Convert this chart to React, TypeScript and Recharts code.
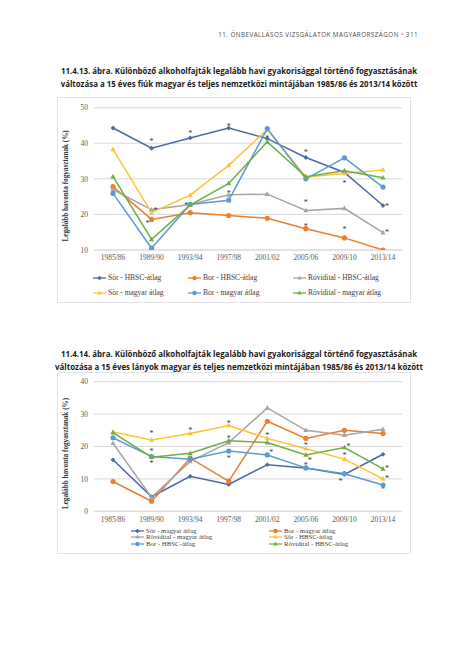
import React from 'react'
import { ComposedChart, Line, Scatter, XAxis, YAxis, CartesianGrid, Legend, Label } from 'recharts'

const YEARS = ['1985/86', '1989/90', '1993/94', '1997/98', '2001/02', '2005/06', '2009/10', '2013/14']

// 11.4.13 - fiúk
const sorHbscBoys = [44.3, 38.6, 41.5, 44.3, 41.3, 36.0, 31.8, 22.5]
const borHbscBoys = [27.8, 18.6, 20.5, 19.7, 18.9, 16.0, 13.4, 10.0]
const rovHbscBoys = [27.0, 21.3, 22.8, 25.5, 25.7, 21.1, 21.7, 14.9]
const sorHuBoys = [38.3, 20.5, 25.4, 33.8, 43.9, 30.5, 31.5, 32.5]
const borHuBoys = [25.9, 10.5, 22.8, 24.0, 44.1, 30.0, 35.9, 27.7]
const rovHuBoys = [30.6, 13.0, 22.6, 28.7, 40.4, 30.6, 32.3, 30.3]

// 11.4.14 - lányok
const sorHuGirls = [15.9, 4.5, 10.8, 8.3, 14.4, 13.4, 11.4, 17.6]
const borHuGirls = [9.2, 3.1, 16.4, 9.3, 27.8, 22.5, 25.0, 24.0]
const rovHuGirls = [21.0, 4.3, 15.4, 21.2, 31.9, 25.0, 23.5, 25.3]
const sorHbscGirls = [24.5, 22.0, 24.0, 26.5, 22.5, 19.3, 16.1, 10.0]
const borHbscGirls = [22.7, 16.9, 16.1, 18.6, 17.4, 13.4, 11.6, 8.1]
const rovHbscGirls = [24.3, 16.7, 17.9, 21.8, 21.2, 17.4, 19.7, 13.1]

// significance asterisks (year, value)
const starsBoysCenter = [
  ['1989/90', 41.1], ['1993/94', 43.2], ['1997/98', 45.3], ['1997/98', 26.3], ['2001/02', 41.8],
  ['2005/06', 37.8], ['2005/06', 23.8], ['2005/06', 17.2], ['2009/10', 29.1], ['2009/10', 16.1],
]
const starsBoysLeft = [['1989/90', 17.9], ['1993/94', 23.0]]
const starsBoysRight = [['1989/90', 21.6], ['2013/14', 22.8], ['2013/14', 15.5]]

const starsGirlsCenter = [
  ['1989/90', 24.5], ['1989/90', 18.9], ['1989/90', 15.4], ['1993/94', 25.5], ['1997/98', 27.7],
  ['1997/98', 23.0], ['1997/98', 16.7], ['2001/02', 24.0], ['2005/06', 20.8], ['2005/06', 14.6],
  ['2009/10', 17.7], ['2013/14', 7.3],
]
const starsGirlsLeft = [['2009/10', 9.8]]
const starsGirlsRight = [['2001/02', 18.6], ['2005/06', 16.2], ['2009/10', 20.4], ['2013/14', 13.7], ['2013/14', 10.5]]

const C = {
  darkBlue: '#4a69a8',
  orange: '#ed7d31',
  gray: '#a5a5a5',
  yellow: '#fcc435',
  lightBlue: '#5b9bd5',
  green: '#70ad47',
}

type Shape = 'circle' | 'diamond' | 'triangle'
type Series = { key: string; name: string; color: string; shape: Shape; values: number[] }

const boysSeries: Series[] = [
  { key: 'sorHbsc', name: 'Sör - HBSC-átlag', color: C.darkBlue, shape: 'diamond', values: sorHbscBoys },
  { key: 'borHbsc', name: 'Bor - HBSC-átlag', color: C.orange, shape: 'circle', values: borHbscBoys },
  { key: 'rovHbsc', name: 'Rövidital - HBSC-átlag', color: C.gray, shape: 'triangle', values: rovHbscBoys },
  { key: 'sorHu', name: 'Sör - magyar átlag', color: C.yellow, shape: 'triangle', values: sorHuBoys },
  { key: 'borHu', name: 'Bor - magyar átlag', color: C.lightBlue, shape: 'circle', values: borHuBoys },
  { key: 'rovHu', name: 'Rövidital - magyar átlag', color: C.green, shape: 'triangle', values: rovHuBoys },
]

const girlsSeries: Series[] = [
  { key: 'sorHu', name: 'Sör - magyar átlag', color: C.darkBlue, shape: 'diamond', values: sorHuGirls },
  { key: 'borHu', name: 'Bor - magyar átlag', color: C.orange, shape: 'circle', values: borHuGirls },
  { key: 'rovHu', name: 'Rövidital - magyar átlag', color: C.gray, shape: 'triangle', values: rovHuGirls },
  { key: 'sorHbsc', name: 'Sör - HBSC-átlag', color: C.yellow, shape: 'triangle', values: sorHbscGirls },
  { key: 'borHbsc', name: 'Bor - HBSC-átlag', color: C.lightBlue, shape: 'circle', values: borHbscGirls },
  { key: 'rovHbsc', name: 'Rövidital - HBSC-átlag', color: C.green, shape: 'triangle', values: rovHbscGirls },
]

const buildRows = (series: Series[]) =>
  YEARS.map((year, i) => {
    const row: Record<string, any> = { year }
    series.forEach((s) => (row[s.key] = s.values[i]))
    return row
  })

const toStars = (list: any[]) => list.map(([year, v]) => ({ year, v }))

const SERIF = '"Liberation Serif", "DejaVu Serif", serif'
const SANS = '"Open Sans", "Noto Sans", sans-serif'

const Marker = ({ cx, cy, shape, color, size }: { cx: number; cy: number; shape: Shape; color: string; size: number }) => {
  if (cx == null || cy == null) return null
  if (shape === 'circle') return <circle cx={cx} cy={cy} r={size} fill={color} />
  if (shape === 'diamond')
    return <polygon points={`${cx},${cy - size} ${cx + size},${cy} ${cx},${cy + size} ${cx - size},${cy}`} fill={color} />
  return (
    <polygon
      points={`${cx},${cy - size * 1.1} ${cx + size},${cy + size * 0.7} ${cx - size},${cy + size * 0.7}`}
      fill={color}
    />
  )
}

const makeDot = (s: Series, size: number) => (props: any) =>
  <Marker key={`${s.key}-${props.index}`} cx={props.cx} cy={props.cy} shape={s.shape} color={s.color} size={size} />

const starShape = (dx: number) => (props: any) =>
  (
    <text x={props.cx + dx} y={props.cy + 4.2} textAnchor="middle" fontSize={8} fontFamily={SERIF} fill="#333">
      *
    </text>
  )

// custom legend laid out as a fixed grid like the Excel original
const LegendGrid = ({
  series,
  cols,
  rows,
  perRow,
  height,
  fontSize,
}: {
  series: Series[]
  cols: number[]
  rows: number[]
  perRow: number
  height: number
  fontSize: number
}) => (
  <div style={{ position: 'relative', height, width: '100%' }}>
    {series.map((s, i) => {
      const x = cols[i % perRow]
      const y = rows[Math.floor(i / perRow)]
      return (
        <div
          key={s.key}
          style={{
            position: 'absolute',
            left: x,
            top: y - 4,
            height: 8,
            display: 'flex',
            alignItems: 'center',
            whiteSpace: 'nowrap',
            fontFamily: SERIF,
            fontSize,
            lineHeight: '8px',
            color: '#404040',
          }}
        >
          <svg width={13} height={8} style={{ marginRight: 2 }}>
            <line x1={0} y1={4} x2={13} y2={4} stroke={s.color} strokeWidth={1.3} />
            <Marker cx={6.5} cy={4} shape={s.shape} color={s.color} size={2.2} />
          </svg>
          {s.name}
        </div>
      )
    })}
  </div>
)

const yTitle = (fontSize: number, shift: number) => (props: any) => {
  const { viewBox } = props
  const x = viewBox.x + 10
  const y = viewBox.y + viewBox.height / 2 + shift
  return (
    <text
      x={x}
      y={y}
      transform={`rotate(-90, ${x}, ${y})`}
      textAnchor="middle"
      fontFamily={SERIF}
      fontWeight="bold"
      fontSize={fontSize}
      fill="#333"
    >
      Legalább havonta fogyasztanak (%)
    </text>
  )
}

const tickStyle = { fontSize: 7.5, fill: '#595959', fontFamily: SERIF }

const AlcoholChart = ({
  series,
  domain,
  ticks,
  width,
  height,
  top,
  legendHeight,
  legend,
  stars,
}: {
  series: Series[]
  domain: [number, number]
  ticks: number[]
  width: number
  height: number
  top: number
  legendHeight: number
  legend: React.ReactNode
  stars: { center: any[]; left: any[]; right: any[] }
}) => {
  const data = buildRows(series)
  return (
    <ComposedChart
      width={width}
      height={height}
      data={data}
      margin={{ top, right: 8, left: 0, bottom: 0 }}
      style={{ fontFamily: SERIF }}
    >
      <CartesianGrid vertical={false} stroke="#d9d9d9" />
      <XAxis
        dataKey="year"
        type="category"
        allowDuplicatedCategory={false}
        interval={0}
        padding={{ left: 19, right: 19 }}
        tickLine={false}
        tickSize={0}
        tickMargin={5}
        axisLine={{ stroke: '#d9d9d9' }}
        tick={tickStyle}
        height={16}
      />
      <YAxis
        domain={domain}
        ticks={ticks}
        allowDataOverflow
        width={36}
        axisLine={false}
        tickLine={false}
        tickSize={0}
        tickMargin={6}
        tick={tickStyle}
      >
        <Label content={yTitle(7.2, 7)} />
      </YAxis>
      <Legend
        verticalAlign="bottom"
        content={() => legend}
        wrapperStyle={{ left: 0, width, height: legendHeight }}
      />
      {series.map((s) => (
        <Line
          key={s.key}
          dataKey={s.key}
          name={s.name}
          stroke={s.color}
          strokeWidth={1.5}
          dot={makeDot(s, s.shape === 'diamond' ? 2.4 : 2.6)}
          activeDot={false}
          isAnimationActive={false}
        />
      ))}
      <Scatter data={toStars(stars.center)} dataKey="v" legendType="none" shape={starShape(0)} isAnimationActive={false} />
      <Scatter data={toStars(stars.left)} dataKey="v" legendType="none" shape={starShape(-4)} isAnimationActive={false} />
      <Scatter data={toStars(stars.right)} dataKey="v" legendType="none" shape={starShape(4)} isAnimationActive={false} />
    </ComposedChart>
  )
}

const titleStyle: React.CSSProperties = {
  position: 'absolute',
  left: 0,
  width: 478,
  textAlign: 'center',
  fontFamily: SANS,
  fontWeight: 700,
  fontSize: 7.9,
  lineHeight: '13px',
  color: '#1a1a1a',
  whiteSpace: 'nowrap',
}

const boxStyle: React.CSSProperties = {
  position: 'absolute',
  left: 57,
  border: '1px solid #e3e3e3',
  background: '#fff',
}

export default function App() {
  return (
    <div style={{ position: 'absolute', left: 0, top: 0, width: 466, height: 667, background: '#fff', overflow: 'hidden' }}>
      <div
        style={{
          position: 'absolute',
          left: 0,
          width: 418,
          top: 30,
          textAlign: 'right',
          fontFamily: SANS,
          fontSize: 6.3,
          letterSpacing: 0.45,
          color: '#4d4d4d',
          whiteSpace: 'nowrap',
        }}
      >
        11. ÖNBEVALLÁSOS VIZSGÁLATOK MAGYARORSZÁGON <span style={{ color: '#c0504d' }}>•</span> 311
      </div>

      <div style={{ ...titleStyle, top: 64.5 }}>
        11.4.13. ábra. Különböző alkoholfajták legalább havi gyakorisággal történő fogyasztásának
        <br />
        változása a 15 éves fiúk magyar és teljes nemzetközi mintájában 1985/86 és 2013/14 között
      </div>

      <div style={{ ...boxStyle, top: 97, width: 352, height: 204 }}>
        <AlcoholChart
          series={boysSeries}
          domain={[10, 50]}
          ticks={[10, 20, 30, 40, 50]}
          width={352}
          height={204}
          top={9.7}
          legendHeight={36}
          stars={{ center: starsBoysCenter, left: starsBoysLeft, right: starsBoysRight }}
          legend={<LegendGrid series={boysSeries} cols={[35, 130, 235]} rows={[11.7, 26.7]} perRow={3} height={36} fontSize={7.5} />}
        />
      </div>

      <div style={{ ...titleStyle, top: 347.5 }}>
        11.4.14. ábra. Különböző alkoholfajták legalább havi gyakorisággal történő fogyasztásának
        <br />
        változása a 15 éves lányok magyar és teljes nemzetközi mintájában 1985/86 és 2013/14 között
      </div>

      <div style={{ ...boxStyle, top: 372, width: 352, height: 180 }}>
        <AlcoholChart
          series={girlsSeries}
          domain={[0, 40]}
          ticks={[0, 10, 20, 30, 40]}
          width={352}
          height={180}
          top={8.7}
          legendHeight={25.7}
          stars={{ center: starsGirlsCenter, left: starsGirlsLeft, right: starsGirlsRight }}
          legend={<LegendGrid series={girlsSeries} cols={[73, 211]} rows={[3.7, 10, 16.2]} perRow={2} height={25.7} fontSize={6.8} />}
        />
      </div>
    </div>
  )
}
